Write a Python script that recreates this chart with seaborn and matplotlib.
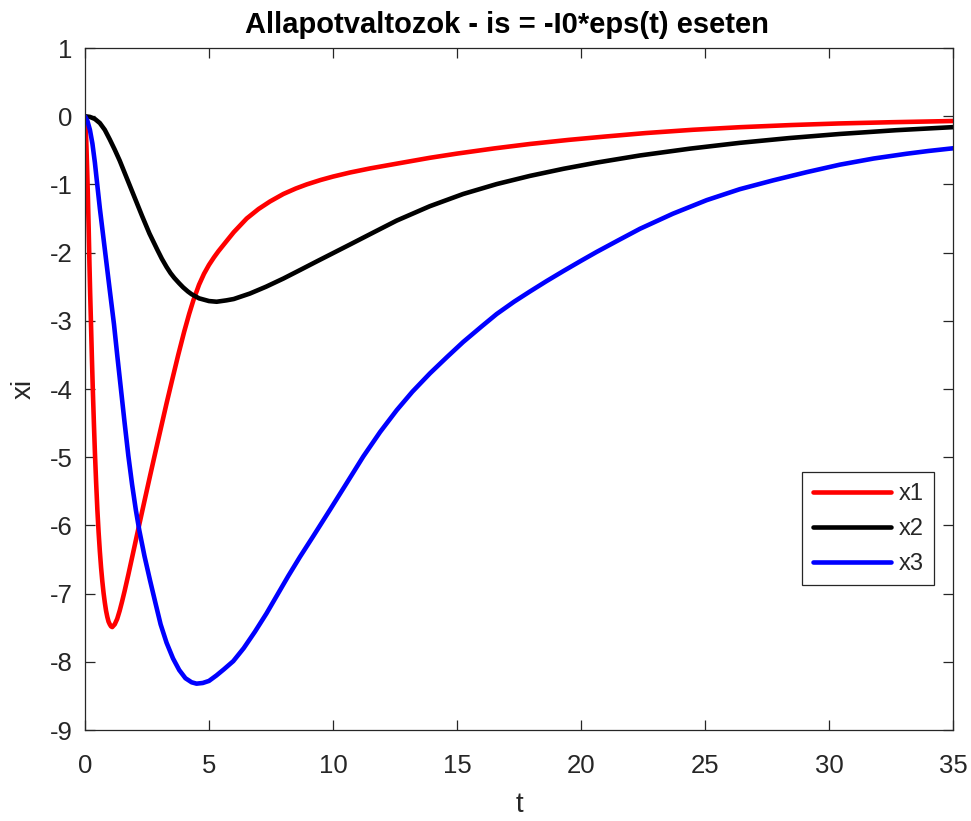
import numpy as np
import pandas as pd
import matplotlib
matplotlib.use("Agg")
import matplotlib.pyplot as plt
import seaborn as sns

# State variable x1
t_x1 = [0.0, 0.03, 0.06, 0.09, 0.12, 0.15, 0.18, 0.21, 0.24, 0.28, 0.32, 0.36,
        0.40, 0.45, 0.50, 0.55, 0.60, 0.65, 0.70, 0.75, 0.80, 0.85, 0.90, 0.95,
        1.00, 1.05, 1.10, 1.20, 1.30, 1.40, 1.50, 1.60, 1.75, 1.90, 2.05,
        2.20, 2.40, 2.62, 2.80, 3.00, 3.29, 3.50, 3.76, 4.00, 4.20, 4.37, 4.60,
        4.80, 5.00, 5.20, 5.38, 5.70, 6.00, 6.52, 7.00, 7.46, 8.00, 8.50, 8.94,
        9.50, 10.00, 10.69, 11.5, 12.5, 13.9, 15.0, 16.5, 17.94, 19.5, 21.0,
        22.6, 24.5, 26.4, 28.5, 30.4, 32.5, 35.0]
x1 = [0.0, -0.15, -0.45, -0.80, -1.20, -1.65, -2.15, -2.60, -3.00, -3.55, -4.05,
      -4.50, -4.92, -5.37, -5.77, -6.10, -6.38, -6.62, -6.82, -6.99, -7.13, -7.25,
      -7.34, -7.41, -7.45, -7.48, -7.49, -7.45, -7.37, -7.25, -7.11, -6.96,
      -6.72, -6.47, -6.22, -5.97, -5.64, -5.28, -4.99, -4.67, -4.21, -3.89, -3.50,
      -3.16, -2.90, -2.70, -2.47, -2.31, -2.18, -2.07, -1.98, -1.835, -1.70, -1.50,
      -1.36, -1.25, -1.14, -1.06, -1.00, -0.935, -0.885, -0.825, -0.765, -0.70,
      -0.61, -0.548, -0.472, -0.407, -0.347, -0.297, -0.247, -0.199, -0.161,
      -0.129, -0.106, -0.088, -0.07]

# State variable x2
t_x2 = [0.0, 0.2, 0.4, 0.6, 0.8, 1.0, 1.2, 1.4, 1.7, 2.0, 2.3, 2.6, 2.92, 3.1,
        3.29, 3.45, 3.6, 3.8, 3.96, 4.15, 4.3, 4.6, 5.0, 5.31, 5.7, 6.0, 6.65,
        7.3, 8.0, 8.7, 9.34, 9.88, 10.69, 11.6, 12.57, 13.9, 15.25, 16.6, 17.94,
        19.3, 20.63, 22.38, 24.4, 26.41, 28.4, 30.44, 32.7, 35.0]
x2 = [0.0, -0.01, -0.04, -0.10, -0.20, -0.34, -0.49, -0.65, -0.92, -1.19, -1.46,
      -1.72, -1.96, -2.09, -2.21, -2.30, -2.37, -2.45, -2.51, -2.57, -2.61, -2.67,
      -2.71, -2.72, -2.70, -2.68, -2.60, -2.50, -2.38, -2.25, -2.13, -2.03, -1.88,
      -1.71, -1.53, -1.32, -1.14, -0.995, -0.875, -0.77, -0.68, -0.575, -0.475,
      -0.39, -0.32, -0.26, -0.205, -0.16]

# State variable x3
t_x3 = [0.0, 0.1, 0.2, 0.3, 0.4, 0.48, 0.6, 0.7, 0.85, 1.0, 1.17, 1.3, 1.45,
        1.6, 1.75, 1.9, 2.05, 2.19, 2.4, 2.62, 2.85, 3.05, 3.29, 3.55, 3.8, 4.05,
        4.3, 4.5, 4.75, 5.0, 5.3, 5.6, 5.98, 6.4, 6.85, 7.32, 7.8, 8.2, 8.67, 9.2,
        9.88, 10.5, 11.22, 11.9, 12.57, 13.2, 13.91, 14.6, 15.25, 16.0, 16.6,
        17.3, 17.94, 18.6, 19.29, 20.0, 20.63, 21.5, 22.38, 23.7, 25.07, 26.4,
        27.75, 29.1, 30.44, 31.8, 33.13, 34.0, 35.0]
x3 = [0.0, -0.07, -0.20, -0.40, -0.68, -0.95, -1.35, -1.65, -2.10, -2.55, -3.05,
      -3.50, -4.00, -4.50, -4.98, -5.40, -5.77, -6.07, -6.45, -6.80, -7.15, -7.45,
      -7.72, -7.95, -8.12, -8.24, -8.30, -8.32, -8.31, -8.28, -8.20, -8.11, -7.99,
      -7.80, -7.56, -7.29, -6.99, -6.74, -6.46, -6.16, -5.77, -5.41, -4.99, -4.63,
      -4.31, -4.04, -3.77, -3.53, -3.31, -3.08, -2.90, -2.72, -2.57, -2.42, -2.27,
      -2.12, -1.99, -1.82, -1.65, -1.43, -1.23, -1.07, -0.94, -0.82, -0.71, -0.62,
      -0.55, -0.51, -0.47]

series_names = ["x1", "x2", "x3"]
series_colors = {"x1": "#ff0000", "x2": "#000000", "x3": "#0000ff"}

x_ticks = [0, 5, 10, 15, 20, 25, 30, 35]
y_ticks = [1, 0, -1, -2, -3, -4, -5, -6, -7, -8, -9]

frames = []
for name, tt, vv in zip(series_names, [t_x1, t_x2, t_x3], [x1, x2, x3]):
    frames.append(pd.DataFrame({"t": tt, "xi": vv, "series": name}))
df = pd.concat(frames, ignore_index=True)

sns.set_style("ticks")
plt.rcParams["font.family"] = ["Liberation Sans", "DejaVu Sans"]

fig = plt.figure(figsize=(9.71, 8.21), dpi=100)
ax = fig.add_axes([0.0875, 0.1108, 0.894, 0.8307])

sns.lineplot(data=df, x="t", y="xi", hue="series", palette=series_colors,
             hue_order=series_names, estimator=None, sort=False,
             linewidth=3.3, ax=ax)

ax.set_xlim(0, 35)
ax.set_ylim(-9, 1)
ax.set_xticks(x_ticks)
ax.set_yticks(y_ticks)
ax.set_xticklabels([str(v) for v in x_ticks])
ax.set_yticklabels([str(v) for v in y_ticks])

axis_color = "#262626"
for side in ["top", "right", "bottom", "left"]:
    ax.spines[side].set_visible(True)
    ax.spines[side].set_color(axis_color)
    ax.spines[side].set_linewidth(0.9)
ax.tick_params(direction="in", length=7, width=0.9, colors=axis_color,
               labelsize=18.5, top=True, right=True)
ax.tick_params(axis="x", pad=17)
ax.tick_params(axis="y", pad=9)

ax.set_xlabel("t", fontsize=20, color=axis_color, labelpad=10)
ax.set_ylabel("xi", fontsize=20, color=axis_color, labelpad=9)
ax.set_title("Allapotvaltozok - is = -I0*eps(t) eseten", fontsize=21,
             fontweight="bold", color="#000000", pad=11, x=0.486)

leg = ax.legend(loc="upper left", bbox_to_anchor=(0.826, 0.378),
                fontsize=17, frameon=True, fancybox=False, handlelength=3.3,
                handletextpad=0.35, borderpad=0.45, labelspacing=0.55,
                borderaxespad=0.0)
leg.get_frame().set_edgecolor(axis_color)
leg.get_frame().set_linewidth(0.9)
leg.get_frame().set_alpha(1.0)
for line in leg.get_lines():
    line.set_linewidth(3.3)

fig.savefig("out.png", dpi=100)
